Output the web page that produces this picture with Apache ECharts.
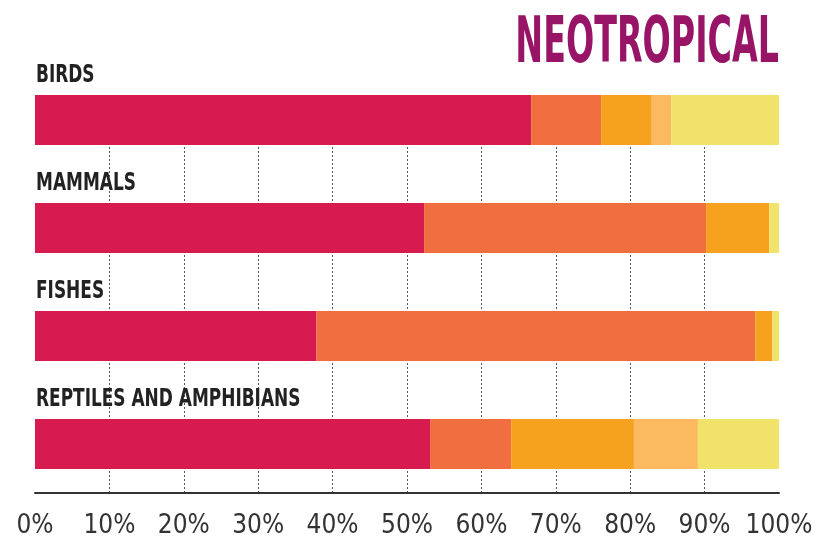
<!DOCTYPE html>
<html>
<head>
<meta charset="utf-8">
<script src="https://cdn.jsdelivr.net/npm/echarts@6/dist/echarts.min.js"></script>
<style>
html,body{margin:0;padding:0;background:#fff;}
#main{width:816px;height:542px;}
</style>
</head>
<body>
<div id="main"></div>
<script>
const titleText = 'NEOTROPICAL';
const categories = ['BIRDS', 'MAMMALS', 'FISHES', 'REPTILES AND AMPHIBIANS'];
const seg1 = [66.7, 52.3, 37.8, 53.1];
const seg2 = [9.4, 37.9, 59.0, 10.9];
const seg3 = [6.8, 8.5, 2.3, 16.5];
const seg4 = [2.6, 0, 0, 8.6];
const seg5 = [14.5, 1.3, 0.9, 10.9];
const segColors = ['#d71b50', '#f06e40', '#f6a21e', '#fbb960', '#f1e36a'];

const FONT = '"DejaVu Sans Condensed", "Liberation Sans Narrow", sans-serif';
const chart = echarts.init(document.getElementById('main'), null, {renderer: 'canvas'});

const segs = [seg1, seg2, seg3, seg4, seg5];
const series = segs.map((d, i) => ({
  name: 'Segment ' + (i + 1),
  type: 'bar',
  stack: 'total',
  xAxisIndex: 0,
  yAxisIndex: 0,
  barWidth: 50,
  itemStyle: {color: segColors[i]},
  data: d,
  z: 5
}));

chart.setOption({
  animation: false,
  backgroundColor: '#ffffff',
  grid: [
    {left: 35, right: 37, top: 66, bottom: 44},
    {left: 35, right: 37, top: 147, bottom: 49}
  ],
  xAxis: [
    {gridIndex: 0, type: 'value', min: 0, max: 100, show: false},
    {
      gridIndex: 1, type: 'value', min: 0, max: 100, interval: 10,
      axisLine: {show: true, lineStyle: {color: '#333', width: 2}},
      axisTick: {show: false},
      splitLine: {show: true, showMinLine: false, showMaxLine: false, lineStyle: {color: '#555', type: [2, 2], width: 1}},
      axisLabel: {formatter: '{value}%', color: '#333', fontSize: 26, fontFamily: FONT, margin: 20}
    }
  ],
  yAxis: [
    {
      gridIndex: 0, type: 'category', data: categories, inverse: true,
      axisLine: {show: false}, axisTick: {show: false}, splitLine: {show: false},
      axisLabel: {show: false}
    },
    {gridIndex: 1, type: 'value', show: false}
  ],
  series: series
});

// Title and category labels as condensed text (no narrow font installed)
const graphics = [{
  type: 'text',
  x: 779,
  y: 13,
  scaleY: 1.74,
  style: {
    text: titleText,
    font: 'bold 37px ' + FONT,
    fill: '#981466',
    textAlign: 'right',
    textVerticalAlign: 'top'
  }
}];
categories.forEach((c) => {
  const cy = chart.convertToPixel({yAxisIndex: 0}, c);
  graphics.push({
    type: 'text',
    x: 36,
    y: cy - 32,
    scaleX: 0.754,
    style: {
      text: c,
      font: 'bold 25px ' + FONT,
      fill: '#222',
      textAlign: 'left',
      textVerticalAlign: 'bottom'
    }
  });
});
chart.setOption({graphic: graphics});
</script>
</body>
</html>
